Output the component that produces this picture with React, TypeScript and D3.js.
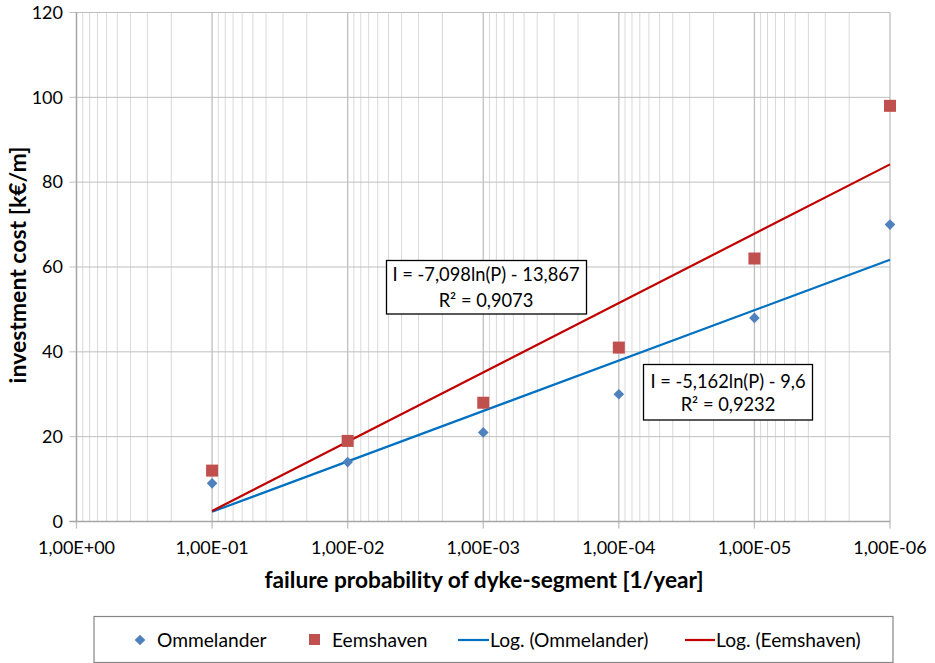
import React from "react";
import * as d3 from "d3";

const probabilities = [1e-1, 1e-2, 1e-3, 1e-4, 1e-5, 1e-6];
const ommelander = [9, 14, 21, 30, 48, 70];
const eemshaven = [12, 19, 28, 41, 62, 98];
const xTickValues = [1, 1e-1, 1e-2, 1e-3, 1e-4, 1e-5, 1e-6];
const xTickLabels = ["1,00E+00", "1,00E-01", "1,00E-02", "1,00E-03", "1,00E-04", "1,00E-05", "1,00E-06"];
const yTickValues = [0, 20, 40, 60, 80, 100, 120];
// logarithmic trendlines: I = a*ln(P) + b
const trendOmmelander = { a: -5.162, b: -9.6, label: "I = -5,162ln(P) - 9,6", r2: "R² = 0,9232" };
const trendEemshaven = { a: -7.098, b: -13.867, label: "I = -7,098ln(P) - 13,867", r2: "R² = 0,9073" };

const W = 935;
const H = 663;
const FONT = "Lato, Carlito, Calibri, sans-serif";

const BLUE_PT = "#4f81bd";
const RED_PT = "#c0504d";
const BLUE_LN = "#0070c0";
const RED_LN = "#c00000";

export default function App() {
  const x = d3.scaleLog().domain([1, 1e-6]).range([76.5, 890]);
  const y = d3.scaleLinear().domain([0, 120]).range([521.5, 12.5]);

  const minor: number[] = [];
  for (let k = 1; k <= 6; k++) {
    for (let m = 2; m <= 9; m++) minor.push(m * Math.pow(10, -k));
  }

  const trendLine = (t: { a: number; b: number }) => {
    const pts = [probabilities[0], probabilities[probabilities.length - 1]].map((p) => [x(p), y(t.a * Math.log(p) + t.b)] as [number, number]);
    return d3.line()(pts) || "";
  };

  const diamond = d3.symbol().type(d3.symbolDiamond2).size(72)();
  const left = x(1);
  const right = x(1e-6);
  const top = y(120);
  const bottom = y(0);

  return (
    <svg width={W} height={H} style={{ position: "absolute", left: 0, top: 0, background: "#fff" }} fontFamily={FONT}>
      <rect x={0} y={0} width={W} height={H} fill="#fff" />
      {/* minor vertical gridlines */}
      {minor.map((v, i) => (
        <line key={"mn" + i} x1={x(v)} x2={x(v)} y1={top} y2={bottom} stroke="#d9d9d9" strokeWidth={1} />
      ))}
      {/* horizontal gridlines */}
      {yTickValues.map((v) => (
        <line key={"hy" + v} x1={left - 7} x2={right} y1={y(v)} y2={y(v)} stroke="#bfbfbf" strokeWidth={1} />
      ))}
      {/* major vertical gridlines */}
      {xTickValues.map((v, i) => (
        <line key={"mj" + i} x1={x(v)} x2={x(v)} y1={top} y2={bottom + 7} stroke="#bfbfbf" strokeWidth={1.3} />
      ))}
      {/* axes */}
      <line x1={left} x2={left} y1={top} y2={bottom} stroke="#a6a6a6" strokeWidth={1.3} />
      <line x1={left - 7} x2={right} y1={bottom} y2={bottom} stroke="#a6a6a6" strokeWidth={1.3} />

      {/* y tick labels */}
      {yTickValues.map((v) => (
        <text key={"yl" + v} x={63} y={y(v)} dy="0.35em" textAnchor="end" fontSize={18} fill="#000">
          {v}
        </text>
      ))}
      {/* x tick labels */}
      {xTickValues.map((v, i) => (
        <text key={"xl" + i} x={x(v)} y={548} dy="0.35em" textAnchor="middle" fontSize={18} fill="#000">
          {xTickLabels[i]}
        </text>
      ))}

      {/* axis titles */}
      <text x={484} y={580} dy="0.35em" textAnchor="middle" fontSize={22.7} fontWeight="bold" fill="#000">
        failure probability of dyke-segment [1/year]
      </text>
      <text transform={`translate(18,${(top + bottom) / 2 - 2}) rotate(-90)`} dy="0.35em" textAnchor="middle" fontSize={23} fontWeight="bold" fill="#000">
        investment cost [k€/m]
      </text>

      {/* trendlines */}
      <path d={trendLine(trendOmmelander)} stroke={BLUE_LN} strokeWidth={2.2} fill="none" />
      <path d={trendLine(trendEemshaven)} stroke={RED_LN} strokeWidth={2.2} fill="none" />

      {/* points */}
      {probabilities.map((p, i) => (
        <rect key={"sq" + i} x={x(p) - 6} y={y(eemshaven[i]) - 6} width={12} height={12} fill={RED_PT} />
      ))}
      {probabilities.map((p, i) => (
        <path key={"dm" + i} d={diamond || ""} transform={`translate(${x(p)},${y(ommelander[i])})`} fill={BLUE_PT} />
      ))}

      {/* equation boxes */}
      <rect x={386.5} y={260.5} width={200} height={53.5} fill="#fff" stroke="#000" strokeWidth={1.3} />
      <text x={486} y={275} dy="0.35em" textAnchor="middle" fontSize={18.3} fill="#000">{trendEemshaven.label}</text>
      <text x={486} y={300.5} dy="0.35em" textAnchor="middle" fontSize={18.3} fill="#000">{trendEemshaven.r2}</text>

      <rect x={643.5} y={364.5} width={169} height={55.5} fill="#fff" stroke="#000" strokeWidth={1.3} />
      <text x={728} y={381.5} dy="0.35em" textAnchor="middle" fontSize={18.3} fill="#000">{trendOmmelander.label}</text>
      <text x={728} y={405} dy="0.35em" textAnchor="middle" fontSize={18.3} fill="#000">{trendOmmelander.r2}</text>

      {/* legend */}
      <rect x={94} y={616.5} width={799} height={46} fill="#fff" stroke="#868686" strokeWidth={1.2} />
      <path d={diamond || ""} transform="translate(140,640)" fill={BLUE_PT} />
      <text x={157} y={640} dy="0.35em" fontSize={19.2} fill="#000">Ommelander</text>
      <rect x={309} y={634} width={11} height={11} fill={RED_PT} />
      <text x={332} y={640} dy="0.35em" fontSize={19.2} fill="#000">Eemshaven</text>
      <line x1={458} x2={489} y1={640} y2={640} stroke={BLUE_LN} strokeWidth={2.2} />
      <text x={490} y={640} dy="0.35em" fontSize={19.2} fill="#000">Log. (Ommelander)</text>
      <line x1={685} x2={715} y1={640} y2={640} stroke={RED_LN} strokeWidth={2.2} />
      <text x={716} y={640} dy="0.35em" fontSize={19.2} fill="#000">Log. (Eemshaven)</text>
    </svg>
  );
}
